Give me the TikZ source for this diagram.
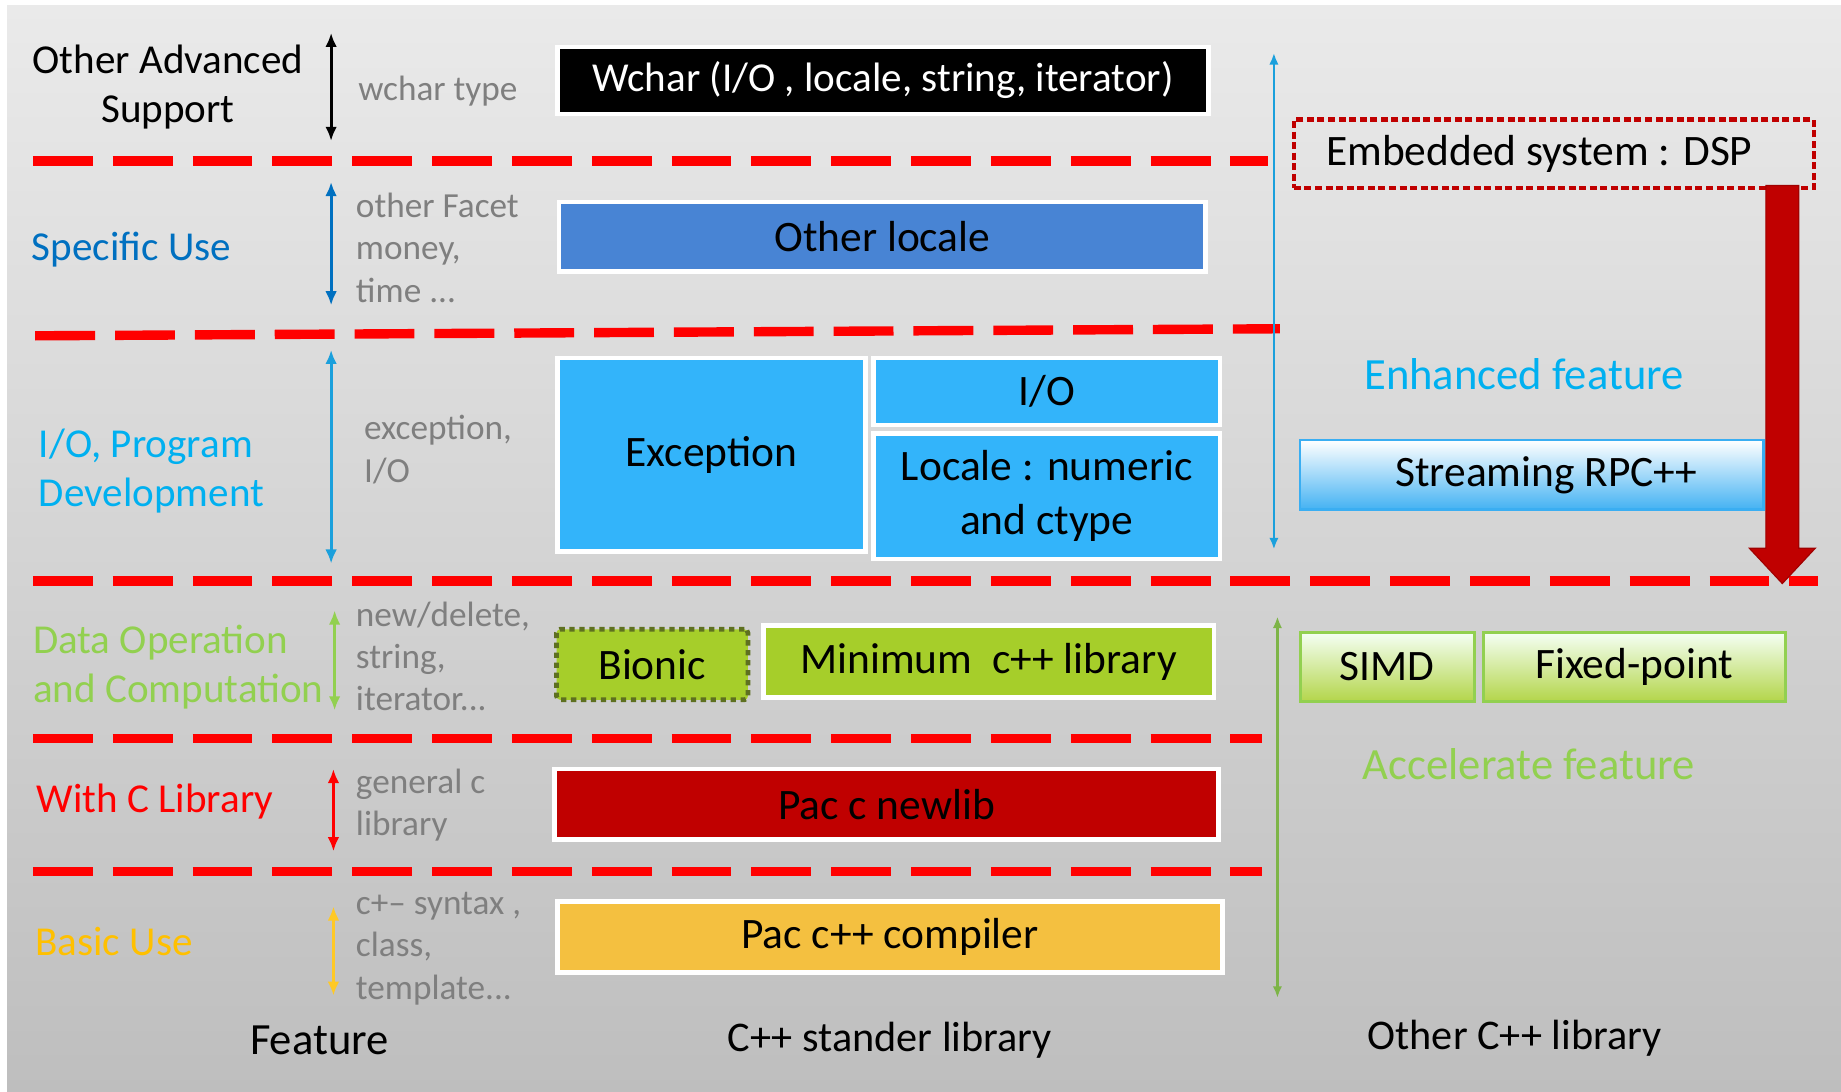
\documentclass[tikz,border=0pt]{standalone}
\usepackage{fontspec}
\setmainfont{Carlito}
\usetikzlibrary{arrows.meta}
\definecolor{dashred}{HTML}{FF0000}
\definecolor{graytxt}{HTML}{7F7F7F}
\definecolor{specblue}{HTML}{0070C0}
\definecolor{iocyan}{HTML}{00B0F0}
\definecolor{datagreen}{HTML}{92D050}
\definecolor{basicorange}{HTML}{FFC000}
\definecolor{localeblue}{HTML}{4884D4}
\definecolor{skyblue}{HTML}{33B4FA}
\definecolor{limegreen}{HTML}{A6CE2A}
\definecolor{oliveborder}{HTML}{5E7020}
\definecolor{darkred}{HTML}{C00000}
\definecolor{compilerorange}{HTML}{F4C040}
\definecolor{longcyan}{HTML}{1BA0DC}
\definecolor{longgreen}{HTML}{7DB447}
\definecolor{streamblue}{HTML}{3AAEF2}
\newcommand\bxfont{\fontsize{37}{46}\selectfont}
\newcommand\lbfont{\fontsize{35}{42}\selectfont}
\newcommand\smfont{\fontsize{30}{36}\selectfont}
\newcommand\ttlfont{\fontsize{38}{44}\selectfont}
\begin{document}
\begin{tikzpicture}[x=1pt,y=-1pt,
  sepline/.style={draw=dashred, line width=8pt, dash pattern=on 51pt off 17pt},
  dblarrow/.style={{Latex[length=12pt,width=10pt]}-{Latex[length=12pt,width=10pt]}, line width=2.5pt},
  thinarrow/.style={{Latex[length=10pt,width=8pt]}-{Latex[length=10pt,width=8pt]}, line width=2pt},
  cbox/.style={draw=white, line width=4pt, inner sep=0pt, font=\bxfont, text=black, align=center},
  lab/.style={inner sep=0pt, font=\lbfont},
  gtext/.style={inner sep=0pt, font=\smfont, text=graytxt, align=left, anchor=west},
  ttl/.style={inner sep=0pt, font=\ttlfont, text=black},
  grbox/.style={draw=datagreen, line width=2.5pt, top color=green!4!white, bottom color=limegreen!85!white, inner sep=0pt, font=\bxfont}
]
% canvas and background
\useasboundingbox (0,0) rectangle (1568,930);
\fill[white] (0,0) rectangle (1568,930);
\shade[top color={rgb,255:red,234;green,234;blue,234}, bottom color={rgb,255:red,190;green,190;blue,190}] (6,5) rectangle (1568,930);

% separators
\coordinate (s1a) at (28,137); \coordinate (s1b) at (1080,137);
\coordinate (s2a) at (30,286); \coordinate (s2b) at (1090,280);
\coordinate (s3a) at (28,495); \coordinate (s3b) at (1548,495);
\coordinate (s4a) at (28,629); \coordinate (s4b) at (1075,629);
\coordinate (s5a) at (28,742); \coordinate (s5b) at (1075,742);
\draw[sepline] (s1a) -- (s1b);
\draw[sepline] (s2a) -- (s2b);
\draw[sepline] (s3a) -- (s3b);
\draw[sepline] (s4a) -- (s4b);
\draw[sepline] (s5a) -- (s5b);

% left feature labels
\node[lab, align=center] (adv) at (143,74) {Other Advanced\\Support};
\node[lab, text=specblue] (spec) at (112,213) {Specific Use};
\node[lab, text=iocyan, align=left, anchor=west] (iodev) at (33,401) {I/O, Program\\Development};
\node[lab, text=datagreen, align=left, anchor=west] (dataop) at (28,568) {Data Operation\\and Computation};
\node[lab, text=dashred] (withc) at (132,683) {With C Library};
\node[lab, text=basicorange, anchor=west] (basic) at (30,802) {Basic Use};

% left arrows
\coordinate (a1t) at (282,28);  \coordinate (a1b) at (282,120);
\coordinate (a2t) at (282,155); \coordinate (a2b) at (282,260);
\coordinate (a3t) at (282,298); \coordinate (a3b) at (282,480);
\coordinate (a4t) at (285,520); \coordinate (a4b) at (285,605);
\coordinate (a5t) at (284,655); \coordinate (a5b) at (284,725);
\coordinate (a6t) at (284,772); \coordinate (a6b) at (284,848);
\draw[dblarrow, black] (a1t) -- (a1b);
\draw[dblarrow, specblue] (a2t) -- (a2b);
\draw[dblarrow, longcyan] (a3t) -- (a3b);
\draw[dblarrow, datagreen] (a4t) -- (a4b);
\draw[dblarrow, dashred, line width=3.2pt] (a5t) -- (a5b);
\draw[dblarrow, basicorange!85!white] (a6t) -- (a6b);

% gray descriptions
\node[gtext] (wtype) at (305,78) {wchar type};
\node[gtext] (facet) at (303,211) {other Facet\\money,\\time ...};
\node[gtext] (excio) at (310,383) {exception,\\I/O};
\node[gtext] (newdel) at (303,559) {new/delete,\\string,\\iterator...};
\node[gtext] (genc) at (303,686) {general c\\library};
\node[gtext] (syntax) at (303,808) {c+– syntax ,\\class,\\template...};

% C++ standard library boxes
\node[cbox, fill=black, text=white, minimum width=554, minimum height=57, font=\fontsize{35}{42}\selectfont] (wchar) at (752,68.5) {Wchar (I/O , locale, string, iterator)};
\node[cbox, fill=localeblue, minimum width=551, minimum height=59] (olocale) at (751.5,201.5) {Other locale};
\node[cbox, fill=skyblue, minimum width=262, minimum height=165] (exc) at (606,387.5) {Exception};
\node[cbox, fill=skyblue, minimum width=295, minimum height=57] (io) at (891.5,333.5) {I/O};
\node[cbox, fill=skyblue, minimum width=295, minimum height=107] (loc) at (891.5,422.5) {Locale : numeric\\and ctype};
\node[cbox, fill=limegreen, draw=oliveborder, dash pattern=on 4.5pt off 4pt, rounded corners=3pt, minimum width=163, minimum height=60] (bionic) at (555.5,566) {Bionic};
\node[cbox, fill=limegreen, minimum width=384, minimum height=61] (minlib) at (842,563.5) {Minimum\ \ c++ library};
\node[cbox, fill=darkred, minimum width=566, minimum height=60] (newlib) at (755,685) {Pac c newlib};
\node[cbox, fill=compilerorange, minimum width=566, minimum height=60] (compiler) at (758,798) {Pac c++ compiler};

% long arrows
\coordinate (lc1) at (1085,45);  \coordinate (lc2) at (1085,468);
\coordinate (lg1) at (1088,525); \coordinate (lg2) at (1088,850);
\draw[thinarrow, longcyan] (lc1) -- (lc2);
\draw[thinarrow, longgreen] (lg1) -- (lg2);

% right side
\node[draw=darkred, line width=4pt, dash pattern=on 6pt off 3pt, minimum width=443, minimum height=58, inner sep=0pt] (embbox) at (1323.5,131) {};
\node[inner sep=0pt, font=\fontsize{37}{44}\selectfont] (embtxt) at (1311,131) {Embedded system : DSP};
\node[inner sep=0pt, font=\ttlfont, text=iocyan] (enh) at (1298,319) {Enhanced feature};
\node[draw=streamblue, line width=2pt, top color=white, bottom color=streamblue!95!white, minimum width=395, minimum height=59, inner sep=0pt] (stream) at (1304.5,404.5) {};
\node[inner sep=0pt, font=\bxfont] (streamtxt) at (1317,404.5) {Streaming RPC++};
\node[grbox, minimum width=148, minimum height=59] (simd) at (1181.5,568) {SIMD};
\node[grbox, minimum width=257, minimum height=59] (fixed) at (1392,568) {Fixed-point};
\node[inner sep=0pt, font=\ttlfont, text=datagreen] (acc) at (1302,651) {Accelerate feature};

% big red arrow
\fill[darkred, draw={rgb,255:red,160;green,0;blue,0}, line width=1pt]
  (1504,158) -- (1532,158) -- (1532,467) -- (1546,467) -- (1518,497) -- (1490,467) -- (1504,467) -- cycle;

% column titles
\node[ttl] (tfeat) at (272,886) {Feature};
\node[ttl, font=\fontsize{36}{44}\selectfont] (tstd) at (758,886) {C++ stander library};
\node[ttl, font=\fontsize{36}{44}\selectfont] (tother) at (1290,884) {Other C++ library};
\end{tikzpicture}
\end{document}
